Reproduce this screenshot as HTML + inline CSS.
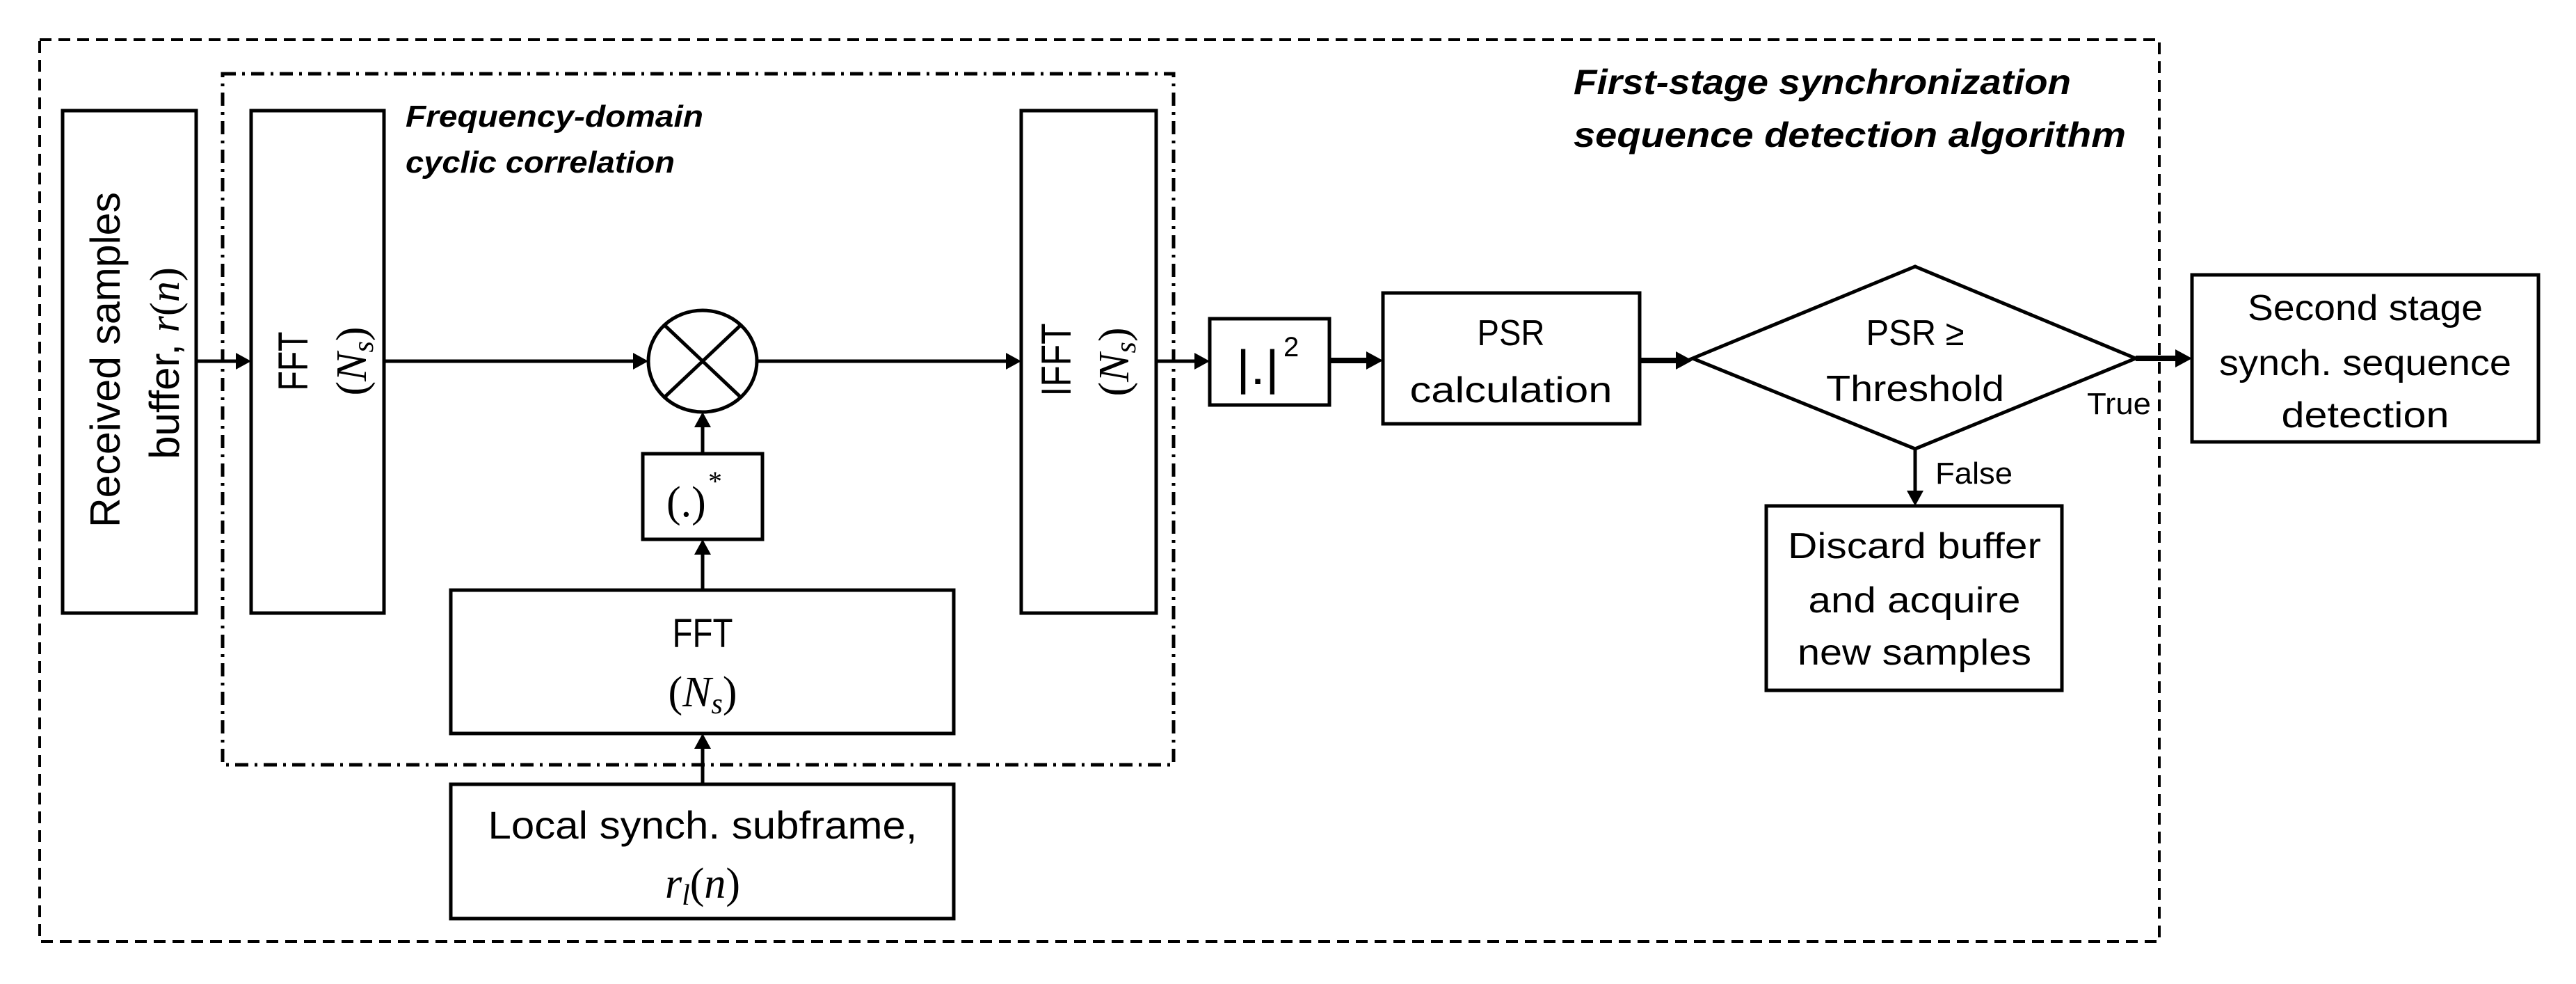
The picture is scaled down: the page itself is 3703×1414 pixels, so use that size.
<!DOCTYPE html>
<html><head><meta charset="utf-8"><style>
html,body{margin:0;padding:0;background:#fff;}
svg{display:block;}
.t{font-family:"Liberation Sans",sans-serif;fill:#000;}
.m{font-family:"Liberation Serif",serif;font-style:italic;fill:#000;}
.p{font-family:"Liberation Serif",serif;fill:#000;}
.bi{font-family:"Liberation Sans",sans-serif;font-weight:bold;font-style:italic;fill:#000;}
</style></head><body>
<svg width="3703" height="1414" viewBox="0 0 3703 1414" xmlns="http://www.w3.org/2000/svg">
<rect x="0" y="0" width="3703" height="1414" fill="#fff"/>
<rect x="57" y="57" width="3047" height="1296" fill="none" stroke="#000" stroke-width="4" stroke-dasharray="17 10"/>
<rect x="320" y="106" width="1367" height="993" fill="none" stroke="#000" stroke-width="5" stroke-dasharray="19 9 4 9"/>

<g fill="none" stroke="#000" stroke-width="5">
<rect x="90" y="159" width="192" height="722"/>
<rect x="361" y="159" width="191" height="722"/>
<rect x="1468" y="159" width="194" height="722"/>
<rect x="924" y="652" width="172" height="123"/>
<rect x="648" y="848" width="723" height="206"/>
<rect x="648" y="1127" width="723" height="193"/>
<rect x="1739" y="458" width="172" height="124"/>
<rect x="1988" y="421" width="369" height="188"/>
<rect x="3151" y="395" width="498" height="240"/>
<rect x="2539" y="727" width="425" height="265"/>
<polygon points="2433,515 2753,383 3070,515 2753,645"/>
<ellipse cx="1010" cy="519" rx="78" ry="73"/>
<line x1="955" y1="467" x2="1065" y2="571"/>
<line x1="1065" y1="467" x2="955" y2="571"/>
</g>

<g stroke="#000" stroke-width="5">
<line x1="282" y1="519" x2="342" y2="519"/>
<line x1="552" y1="519" x2="912" y2="519"/>
<line x1="1088" y1="519" x2="1448" y2="519"/>
<line x1="1662" y1="519" x2="1720" y2="519"/>
<line x1="1911" y1="518" x2="1968" y2="518" stroke-width="8"/>
<line x1="2357" y1="518" x2="2414" y2="518" stroke-width="8"/>
<line x1="3070" y1="515" x2="3132" y2="515" stroke-width="8"/>
<line x1="2753" y1="645" x2="2753" y2="708"/>
<line x1="1010" y1="652" x2="1010" y2="612"/>
<line x1="1010" y1="848" x2="1010" y2="795"/>
<line x1="1010" y1="1127" x2="1010" y2="1074"/>
</g>
<g fill="#000">
<polygon points="361,519 339,507 339,531"/>
<polygon points="932,519 910,507 910,531"/>
<polygon points="1468,519 1446,507 1446,531"/>
<polygon points="1739,519 1717,507 1717,531"/>
<polygon points="1988,518 1964,505 1964,531"/>
<polygon points="2433,518 2409,505 2409,531"/>
<polygon points="3151,515 3127,502 3127,528"/>
<polygon points="2753,727 2741,705 2765,705"/>
<polygon points="1010,592 998,614 1022,614"/>
<polygon points="1010,775 998,797 1022,797"/>
<polygon points="1010,1054 998,1076 1022,1076"/>
</g>

<text class="t" font-size="60" text-anchor="middle" transform="translate(172,517) rotate(-90)" textLength="482" lengthAdjust="spacingAndGlyphs">Received samples</text>
<text class="t" font-size="60" text-anchor="middle" transform="translate(257,522) rotate(-90)">buffer, <tspan class="m">r</tspan><tspan class="p">(</tspan><tspan class="m">n</tspan><tspan class="p">)</tspan></text>
<text class="t" font-size="60" text-anchor="middle" transform="translate(442,519) rotate(-90)" textLength="85" lengthAdjust="spacingAndGlyphs">FFT</text>
<text class="p" font-size="62" text-anchor="middle" transform="translate(526,519) rotate(-90)">(<tspan class="m">N</tspan><tspan class="m" font-size="42" dy="10">s</tspan><tspan dy="-10">)</tspan></text>
<text class="t" font-size="60" text-anchor="middle" transform="translate(1539,517) rotate(-90)" textLength="105" lengthAdjust="spacingAndGlyphs">IFFT</text>
<text class="p" font-size="62" text-anchor="middle" transform="translate(1622,520) rotate(-90)">(<tspan class="m">N</tspan><tspan class="m" font-size="42" dy="10">s</tspan><tspan dy="-10">)</tspan></text>

<text class="bi" font-size="44" x="583" y="182" textLength="428" lengthAdjust="spacingAndGlyphs">Frequency-domain</text>
<text class="bi" font-size="44" x="583" y="248" textLength="387" lengthAdjust="spacingAndGlyphs">cyclic correlation</text>
<text class="bi" font-size="50" x="2262" y="135" textLength="715" lengthAdjust="spacingAndGlyphs">First-stage synchronization</text>
<text class="bi" font-size="50" x="2262" y="211" textLength="794" lengthAdjust="spacingAndGlyphs">sequence detection algorithm</text>

<text class="p" font-size="62" x="958" y="742">(.)</text>
<text class="p" font-size="40" x="1018" y="705">*</text>
<text class="t" font-size="58" x="1010" y="930" text-anchor="middle" textLength="87" lengthAdjust="spacingAndGlyphs">FFT</text>
<text class="p" font-size="62" x="1010" y="1015" text-anchor="middle">(<tspan class="m">N</tspan><tspan class="m" font-size="42" dy="10">s</tspan><tspan dy="-10">)</tspan></text>
<text class="t" font-size="56" x="1010" y="1205" text-anchor="middle" textLength="617" lengthAdjust="spacingAndGlyphs">Local synch. subframe,</text>
<text class="p" font-size="62" x="1010" y="1290" text-anchor="middle"><tspan class="m">r</tspan><tspan class="m" font-size="42" dy="10">l</tspan><tspan dy="-10">(</tspan><tspan class="m">n</tspan>)</text>

<text class="t" font-size="70" x="1777" y="552" textLength="62" lengthAdjust="spacingAndGlyphs">|.|</text>
<text class="t" font-size="40" x="1845" y="512">2</text>

<text class="t" font-size="52" x="2172" y="496" text-anchor="middle" textLength="97" lengthAdjust="spacingAndGlyphs">PSR</text>
<text class="t" font-size="52" x="2172" y="578" text-anchor="middle" textLength="291" lengthAdjust="spacingAndGlyphs">calculation</text>
<text class="t" font-size="52" x="2753" y="496" text-anchor="middle" textLength="141" lengthAdjust="spacingAndGlyphs">PSR ≥</text>
<text class="t" font-size="52" x="2753" y="576" text-anchor="middle" textLength="256" lengthAdjust="spacingAndGlyphs">Threshold</text>
<text class="t" font-size="52" x="3400" y="460" text-anchor="middle" textLength="338" lengthAdjust="spacingAndGlyphs">Second stage</text>
<text class="t" font-size="52" x="3400" y="539" text-anchor="middle" textLength="420" lengthAdjust="spacingAndGlyphs">synch. sequence</text>
<text class="t" font-size="52" x="3400" y="614" text-anchor="middle" textLength="241" lengthAdjust="spacingAndGlyphs">detection</text>
<text class="t" font-size="52" x="2752" y="802" text-anchor="middle" textLength="364" lengthAdjust="spacingAndGlyphs">Discard buffer</text>
<text class="t" font-size="52" x="2752" y="880" text-anchor="middle" textLength="305" lengthAdjust="spacingAndGlyphs">and acquire</text>
<text class="t" font-size="52" x="2752" y="955" text-anchor="middle" textLength="336" lengthAdjust="spacingAndGlyphs">new samples</text>
<text class="t" font-size="44" x="3000" y="595" textLength="92" lengthAdjust="spacingAndGlyphs">True</text>
<text class="t" font-size="44" x="2782" y="695" textLength="111" lengthAdjust="spacingAndGlyphs">False</text>
</svg>
</body></html>
